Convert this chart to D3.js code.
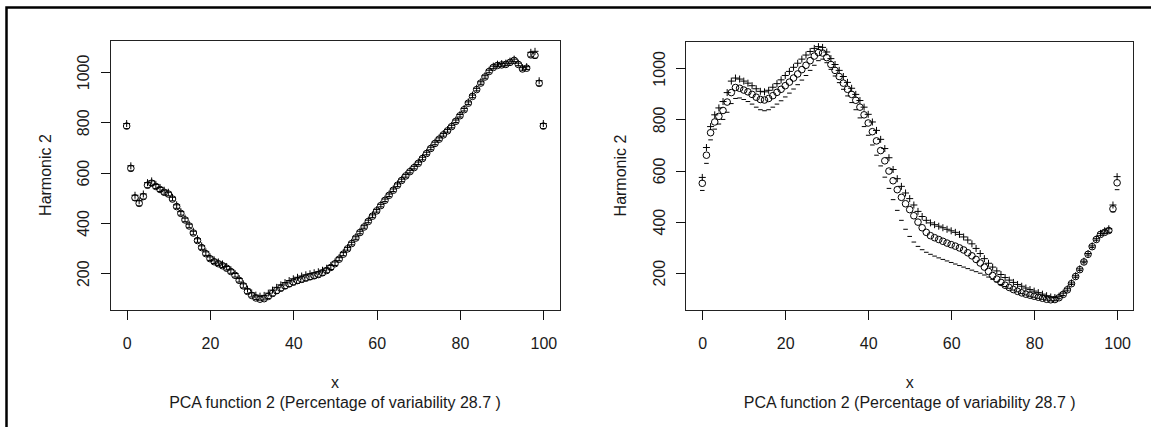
<!DOCTYPE html>
<html>
<head>
<meta charset="utf-8">
<script src="https://cdn.jsdelivr.net/npm/d3@7"></script>
<style>
  body { margin: 0; background: #fff; }
  svg text { font-family: "Liberation Sans", Arial, sans-serif; font-size: 16px; fill: #1a1a1a; }
</style>
</head>
<body>
<div id="chart"></div>
<script>
// argument grid and axis ticks
const xGrid = d3.range(0, 101);
const xTicks = [0, 20, 40, 60, 80, 100];
const yTicks = [200, 400, 600, 800, 1000];

// left plot: mean (circles), mean + harmonic (+), mean - harmonic (-)
const leftMean = [785, 617, 500, 478, 505, 550, 558, 545, 533, 522,
  515, 495, 465, 438, 412, 388, 360, 330, 302, 278,
  258, 246, 238, 230, 220, 207, 192, 172, 150, 128,
  112, 102, 97, 99, 108, 120, 131, 141, 150, 158,
  165, 171, 176, 181, 186, 190, 195, 202, 211, 223,
  238, 256, 276, 297, 318, 340, 362, 384, 406, 427,
  448, 469, 490, 510, 530, 550, 569, 587, 604, 620,
  637, 656, 676, 696, 716, 733, 750, 766, 783, 804,
  826, 850, 876, 903, 930, 956, 980, 1002, 1018, 1026,
  1028, 1030, 1038, 1046, 1030, 1012, 1015, 1068, 1066, 955, 785];
const leftPlus = [795, 627, 510, 488, 515, 560, 567, 553, 541, 530,
  522, 502, 472, 445, 419, 395, 367, 337, 309, 285,
  265, 253, 245, 237, 227, 214, 199, 179, 158, 137,
  122, 113, 109, 112, 121, 133, 144, 154, 163, 171,
  178, 184, 189, 194, 198, 202, 206, 212, 220, 231,
  245, 262, 282, 302, 323, 345, 367, 389, 411, 432,
  453, 474, 495, 515, 535, 555, 574, 592, 609, 625,
  642, 661, 681, 701, 721, 738, 755, 771, 788, 809,
  831, 855, 881, 908, 935, 961, 985, 1007, 1023, 1031,
  1033, 1035, 1043, 1051, 1035, 1017, 1021, 1078, 1082, 965, 795];
const leftMinus = [775, 607, 490, 468, 495, 540, 549, 537, 525, 514,
  508, 488, 458, 431, 405, 381, 353, 323, 295, 271,
  251, 239, 231, 223, 213, 200, 185, 165, 142, 119,
  106, 96, 93, 94, 100, 110, 120, 130, 139, 147,
  154, 160, 165, 170, 175, 180, 185, 192, 202, 215,
  231, 250, 270, 292, 313, 335, 357, 379, 401, 422,
  443, 464, 485, 505, 525, 545, 564, 582, 599, 615,
  632, 651, 671, 691, 711, 728, 745, 761, 778, 799,
  821, 845, 871, 898, 925, 951, 975, 997, 1013, 1021,
  1023, 1025, 1033, 1041, 1025, 1007, 1010, 1060, 1055, 945, 775];

// right plot
const rightMean = [550, 660, 748, 790, 812, 835, 868, 905, 925, 922,
  915, 908, 898, 887, 878, 876, 882, 893, 906, 918,
  932, 946, 962, 978, 995, 1012, 1030, 1048, 1062, 1060,
  1042, 1015, 992, 968, 942, 918, 898, 875, 848, 818,
  786, 752, 716, 678, 638, 598, 560, 525, 495, 470,
  447, 423, 398, 376, 358, 345, 337, 330, 323, 316,
  310, 304, 297, 289, 278, 266, 252, 238, 222, 205,
  189, 175, 162, 151, 142, 134, 127, 121, 116, 112,
  108, 104, 100, 96, 94, 95, 102, 115, 133, 157,
  185, 212, 242, 272, 302, 330, 350, 358, 365, 450, 552];
const rightPlus = [573, 690, 772, 818, 845, 870, 905, 950, 962, 958,
  950, 942, 932, 920, 910, 908, 914, 926, 940, 955,
  972, 988, 1004, 1020, 1036, 1052, 1066, 1078, 1085, 1082,
  1064, 1038, 1015, 992, 968, 945, 922, 898, 874, 848,
  820, 790, 757, 722, 686, 650, 604, 568, 538, 512,
  490, 465, 440, 420, 405, 395, 388, 382, 376, 370,
  364, 358, 350, 340, 328, 313, 295, 275, 255, 237,
  222, 207, 193, 181, 171, 162, 154, 147, 140, 134,
  128, 122, 116, 110, 105, 103, 108, 120, 137, 160,
  188, 215, 245, 275, 305, 333, 354, 364, 372, 465, 576];
const rightMinus = [522, 628, 720, 762, 782, 800, 828, 862, 882, 884,
  878, 870, 860, 848, 838, 834, 838, 848, 860, 873,
  888, 903, 919, 936, 954, 972, 992, 1012, 1030, 1036,
  1022, 996, 970, 944, 918, 892, 866, 838, 806, 772,
  738, 700, 660, 618, 574, 530, 486, 444, 405, 370,
  342, 320, 303, 290, 280, 272, 265, 258, 252, 246,
  240, 234, 228, 222, 216, 210, 204, 198, 191, 183,
  174, 164, 154, 146, 139, 132, 125, 118, 113, 108,
  104, 100, 96, 93, 90, 90, 98, 111, 129, 154,
  182, 209, 239, 269, 299, 327, 346, 353, 358, 438, 525];

const xLimits = [-4, 104];
const leftYLimits = [54, 1127];
const rightYLimits = [54, 1107];

const yLabel = "Harmonic 2";
const xLabel = "x";
const subLabel = "PCA function 2 (Percentage of variability 28.7 )";

const W = 1151, H = 427;

const svg = d3.select("#chart")
    .append("svg")
    .attr("width", W)
    .attr("height", H);

svg.append("rect")
    .attr("width", W)
    .attr("height", H)
    .attr("fill", "#fff");

// outer frame (only top and left edges show)
svg.append("path")
    .attr("d", "M6.5," + H + "V7.5H" + W)
    .attr("fill", "none")
    .attr("stroke", "#000")
    .attr("stroke-width", 2.5);

const panels = [
    { left: 110, right: 560, top: 40, bottom: 310, ylim: leftYLimits,
      mean: leftMean, plus: leftPlus, minus: leftMinus },
    { left: 685.7, right: 1133.7, top: 41, bottom: 310, ylim: rightYLimits,
      mean: rightMean, plus: rightPlus, minus: rightMinus }
];

panels.forEach(p => {
    const x = d3.scaleLinear().domain(xLimits).range([p.left, p.right]);
    const y = d3.scaleLinear().domain(p.ylim).range([p.bottom, p.top]);
    const g = svg.append("g");

    // plot box
    g.append("rect")
        .attr("x", p.left)
        .attr("y", p.top)
        .attr("width", p.right - p.left)
        .attr("height", p.bottom - p.top)
        .attr("fill", "none")
        .attr("stroke", "#222")
        .attr("shape-rendering", "crispEdges");

    // x axis
    const xa = g.append("g")
        .attr("transform", "translate(0," + p.bottom + ")")
        .call(d3.axisBottom(x).tickValues(xTicks).tickFormat(d3.format("d"))
            .tickSize(9.5).tickPadding(18));
    xa.select(".domain").remove();
    xa.selectAll("line").attr("stroke", "#111").attr("shape-rendering", "crispEdges");
    xa.selectAll("text").attr("font-size", 16).attr("font-family", null);

    // y axis, labels parallel to the axis
    const ya = g.append("g")
        .attr("transform", "translate(" + p.left + ",0)")
        .call(d3.axisLeft(y).tickValues(yTicks).tickFormat(d3.format("d")).tickSize(9.5));
    ya.select(".domain").remove();
    ya.selectAll("line").attr("stroke", "#111").attr("shape-rendering", "crispEdges");
    ya.selectAll("text")
        .attr("font-size", 16)
        .attr("font-family", null)
        .attr("transform", "rotate(-90)")
        .attr("text-anchor", "middle")
        .attr("x", 0)
        .attr("y", -21)
        .attr("dy", 0);

    // axis titles
    g.append("text")
        .attr("transform", "translate(" + (p.left - 59.5) + "," + ((p.top + p.bottom) / 2) + ") rotate(-90)")
        .attr("text-anchor", "middle")
        .text(yLabel);
    g.append("text")
        .attr("x", (p.left + p.right) / 2)
        .attr("y", 388)
        .attr("text-anchor", "middle")
        .text(xLabel);
    g.append("text")
        .attr("x", (p.left + p.right) / 2)
        .attr("y", 408)
        .attr("text-anchor", "middle")
        .text(subLabel);

    // mean curve as circles
    g.selectAll(".mean")
        .data(p.mean)
        .enter()
        .append("circle")
        .attr("class", "mean")
        .attr("cx", (d, i) => x(xGrid[i]))
        .attr("cy", d => y(d))
        .attr("r", 3.3)
        .attr("fill", "none")
        .attr("stroke", "#000")
        .attr("stroke-width", 1);

    // + markers
    g.selectAll(".plus")
        .data(p.plus)
        .enter()
        .append("path")
        .attr("class", "plus")
        .attr("d", (d, i) => {
            const cx = x(xGrid[i]), cy = y(d);
            return "M" + (cx - 3.5) + "," + cy + "H" + (cx + 3.5) +
                   "M" + cx + "," + (cy - 3.5) + "V" + (cy + 3.5);
        })
        .attr("stroke", "#000")
        .attr("stroke-width", 1);

    // - markers
    g.selectAll(".minus")
        .data(p.minus)
        .enter()
        .append("path")
        .attr("class", "minus")
        .attr("d", (d, i) => {
            const cx = x(xGrid[i]), cy = y(d);
            return "M" + (cx - 2.3) + "," + cy + "H" + (cx + 2.3);
        })
        .attr("stroke", "#000")
        .attr("stroke-width", 1);
});
</script>
</body>
</html>
